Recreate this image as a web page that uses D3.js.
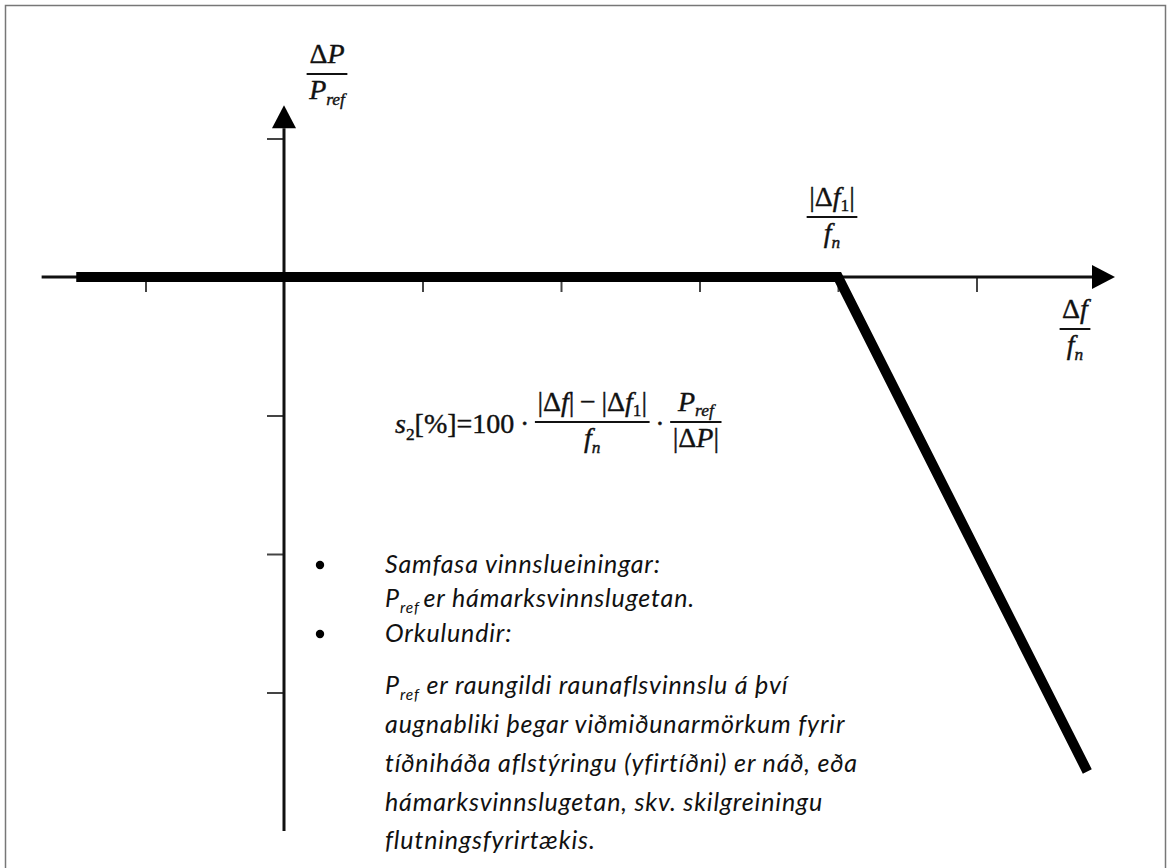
<!DOCTYPE html>
<html>
<head>
<meta charset="utf-8">
<title>s2 droop</title>
<script src="https://cdn.jsdelivr.net/npm/d3@7"></script>
<style>
  body { margin: 0; background: #fff; }
  svg { display: block; }
  .math { font-family: "Liberation Serif", "Times New Roman", serif; fill: #111; stroke: #111; stroke-width: 0.4; }
  .note { font-family: Lato, "Open Sans", sans-serif; font-style: italic; fill: #111; letter-spacing: 0.85px; }
  .tick line { stroke: #444; stroke-width: 2; }
</style>
</head>
<body>
<svg id="chart" width="1169" height="868"></svg>
<script>
// axis ticks (in units of the grid)
var xTicks = [-1, 1, 2, 3, 4, 5];
var yTicks = [1, -1, -2, -3];
var xAxisExtent = [-1.75, 6.0];
var yAxisExtent = [-4, 1.24];

// droop characteristic: dP/Pref against df/fn
var droopX = [-1.5, 4, 5.8];
var droopY = [0, 0, -3.57];

// text block
var noteLines = [
  {bullet: true,  parts: [["Samfasa vinnslueiningar:"]]},
  {bullet: false, parts: [["P"], ["ref", "s"], ["\u2009er hámarksvinnslugetan."]]},
  {bullet: true,  parts: [["Orkulundir:"]]},
  {bullet: false, parts: [["P"], ["ref", "s"], [" er raungildi raunaflsvinnslu á því"]]},
  {bullet: false, parts: [["augnabliki þegar viðmiðunarmörkum fyrir"]]},
  {bullet: false, parts: [["tíðniháða aflstýringu (yfirtíðni) er náð, eða"]]},
  {bullet: false, parts: [["hámarksvinnslugetan, skv. skilgreiningu"]]},
  {bullet: false, parts: [["flutningsfyrirtækis."]]}
];
var noteBaselines = [573, 607, 642, 694, 733, 772, 811, 849];

var svg = d3.select("#chart");

svg.append("rect")
  .attr("x", 5.5).attr("y", 5.5)
  .attr("width", 1160).attr("height", 900)
  .attr("fill", "none").attr("stroke", "#777").attr("stroke-width", 1.5);

var x = d3.scaleLinear().domain([0, 1]).range([284, 422.5]);
var y = d3.scaleLinear().domain([0, 1]).range([277, 138.5]);

// ticks
svg.append("g")
  .attr("transform", "translate(0," + y(0) + ")")
  .call(d3.axisBottom(x).tickValues(xTicks).tickSize(15).tickFormat(""))
  .call(function(g) { g.select(".domain").remove(); });

svg.append("g")
  .attr("transform", "translate(" + x(0) + ",0)")
  .call(d3.axisLeft(y).tickValues(yTicks).tickSize(17).tickFormat(""))
  .call(function(g) { g.select(".domain").remove(); });

// axis lines with arrow heads
var ah = 23, aw = 12;
svg.append("line")
  .attr("x1", x(xAxisExtent[0])).attr("x2", x(xAxisExtent[1]) - ah)
  .attr("y1", y(0)).attr("y2", y(0))
  .attr("stroke", "#111").attr("stroke-width", 3);
svg.append("path")
  .attr("d", d3.line()([[x(xAxisExtent[1]), y(0)], [x(xAxisExtent[1]) - ah, y(0) - aw], [x(xAxisExtent[1]) - ah, y(0) + aw]]) + "Z")
  .attr("fill", "#000");

svg.append("line")
  .attr("x1", x(0)).attr("x2", x(0))
  .attr("y1", y(yAxisExtent[0])).attr("y2", y(yAxisExtent[1]) + ah)
  .attr("stroke", "#111").attr("stroke-width", 3);
svg.append("path")
  .attr("d", d3.line()([[x(0), y(yAxisExtent[1])], [x(0) - aw, y(yAxisExtent[1]) + ah], [x(0) + aw, y(yAxisExtent[1]) + ah]]) + "Z")
  .attr("fill", "#000");

// the droop curve
svg.append("path")
  .datum(d3.zip(droopX, droopY))
  .attr("d", d3.line().x(function(d) { return x(d[0]); }).y(function(d) { return y(d[1]); }))
  .attr("fill", "none")
  .attr("stroke", "#000")
  .attr("stroke-width", 10)
  .attr("stroke-linejoin", "miter");

// rich text helper: parts = [text, style]; style has "i" italic, "s" subscript
function rich(text, parts, fs, drop) {
  var shift = 0;
  drop = drop || 0.25;
  parts.forEach(function(p) {
    var st = p[1] || "";
    var ts = text.append("tspan").text(p[0]);
    var sub = st.indexOf("s") >= 0;
    var target = sub ? drop * fs : 0;
    if (target !== shift) { ts.attr("dy", target - shift); shift = target; }
    if (sub) ts.attr("font-size", fs * 0.62);
    if (st.indexOf("i") >= 0) ts.attr("font-style", "italic");
  });
  return text;
}

function frac(g, cx, barY, num, den, fs) {
  var t1 = rich(g.append("text").attr("class", "math").attr("text-anchor", "middle")
    .attr("font-size", fs).attr("x", cx).attr("y", barY - 0.4 * fs), num, fs, 0.2);
  var t2 = rich(g.append("text").attr("class", "math").attr("text-anchor", "middle")
    .attr("font-size", fs).attr("x", cx).attr("y", barY + 0.9 * fs), den, fs, 0.2);
  var w = Math.max(t1.node().getComputedTextLength(), t2.node().getComputedTextLength()) + 5;
  g.append("line")
    .attr("x1", cx - w / 2).attr("x2", cx + w / 2)
    .attr("y1", barY).attr("y2", barY)
    .attr("stroke", "#111").attr("stroke-width", 2);
  return w;
}

// axis labels
var lab = svg.append("g");
frac(lab, 327, 74, [["Δ"], ["P", "i"]], [["P", "i"], ["ref", "si"]], 28);
frac(lab, x(4) - 6, 217, [["|Δ"], ["f", "i"], ["1", "s"], ["|"]], [["f", "i"], ["n", "si"]], 28);
frac(lab, 1075, 329, [["Δ"], ["f", "i"]], [["f", "i"], ["n", "si"]], 28);

// formula laid out left to right
var fs = 28, fx = 395, fBase = 433, fBar = 422;
var fg = svg.append("g");
function inline(parts) {
  var t = rich(fg.append("text").attr("class", "math").attr("font-size", fs)
    .attr("x", fx).attr("y", fBase), parts, fs);
  fx += t.node().getComputedTextLength();
}
function inlineFrac(num, den) {
  var tmp = fg.append("g");
  var w = frac(tmp, 0, fBar, num, den, fs);
  tmp.attr("transform", "translate(" + (fx + w / 2) + ",0)");
  fx += w;
}
inline([["s", "i"], ["2", "s"], ["[%]=100\u2009·\u2009"]]);
inlineFrac([["|Δ"], ["f", "i"], ["|\u2009−\u2009|Δ"], ["f", "i"], ["1", "s"], ["|"]], [["f", "i"], ["n", "si"]]);
inline([["\u2009·\u2009"]]);
inlineFrac([["P", "i"], ["ref", "si"]], [["|Δ"], ["P", "i"], ["|"]]);

// bullet notes
var nfs = 25;
var notes = svg.append("g");
noteLines.forEach(function(l, i) {
  if (l.bullet) {
    notes.append("circle").attr("cx", 320).attr("cy", noteBaselines[i] - 8).attr("r", 4.2).attr("fill", "#000");
  }
  rich(notes.append("text").attr("class", "note").attr("font-size", nfs)
    .attr("x", 385).attr("y", noteBaselines[i]), l.parts, nfs);
});
</script>
</body>
</html>
